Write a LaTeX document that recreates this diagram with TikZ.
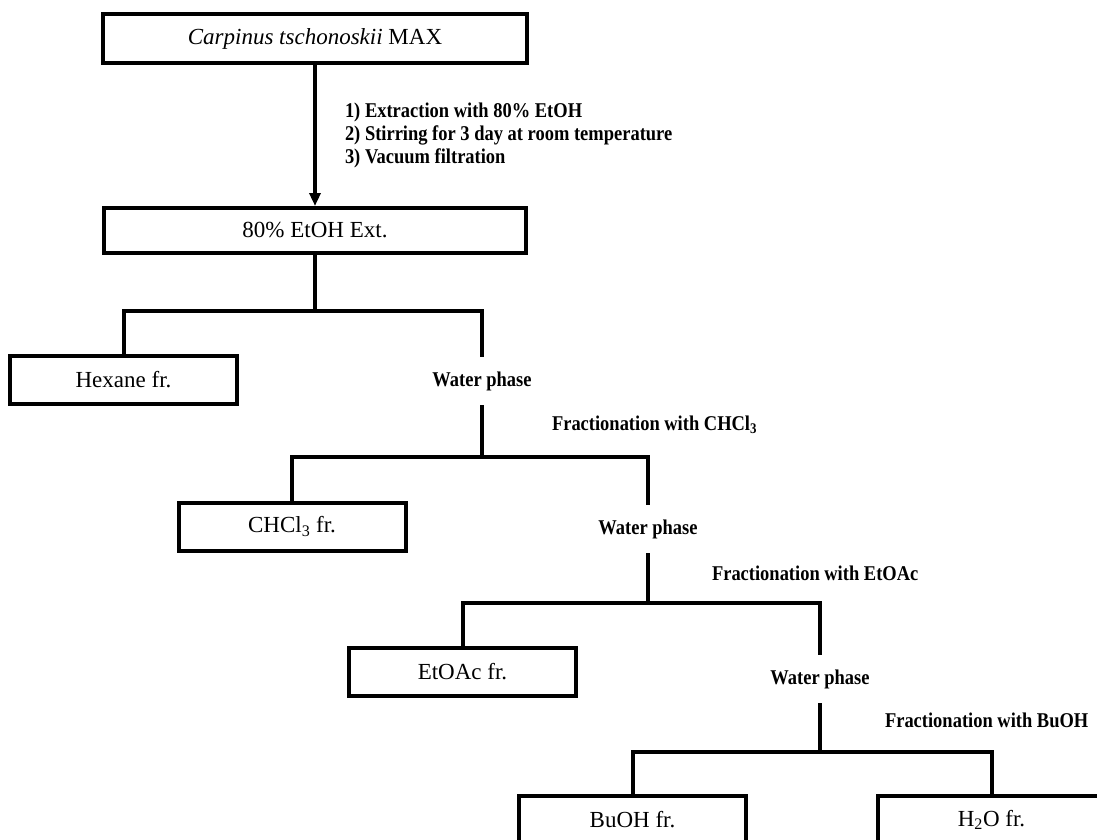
\documentclass[tikz,border=0pt]{standalone}
\usepackage{fontspec}
\setmainfont{Liberation Serif}
\newfontfamily\stepfont{Liberation Serif}[FakeStretch=0.88]
\usetikzlibrary{arrows.meta,positioning}

\begin{document}
\begin{tikzpicture}[x=1pt,y=-1pt,line width=4pt,
    box/.style={draw,rectangle,minimum width=227pt,minimum height=48pt,inner sep=0pt,
        font=\fontsize{23}{27}\selectfont},
    lbl/.style={inner sep=0pt,font=\stepfont\bfseries\fontsize{21}{23}\selectfont},
    phase/.style={lbl,minimum height=44pt}]
    \useasboundingbox (0,0) rectangle (1097,839);
    % plant material and extraction
    \node (src) [box,minimum width=424pt,minimum height=49pt] at (315,38.5)
        {\textit{Carpinus tschonoskii} MAX};
    \node (ext) [box,minimum width=422pt,minimum height=45pt] at (315,230.5) {80\% EtOH Ext.};
    \draw [-{Triangle[length=13pt,width=11pt]}] (src) --
        node (steps) [lbl,right=28pt,align=left]
        {1) Extraction with 80\% EtOH\\2) Stirring for 3 day at room temperature\\3) Vacuum filtration}
        (ext);
    % hexane
    \coordinate (j1) at (315,311);
    \node (hex) [box] at (123.5,380) {Hexane fr.};
    \node (wp1) [phase] at (482,381) {Water phase};
    \draw (ext) -- (j1);
    \draw (hex) |- (j1) -| (wp1);
    \node (fr1) [lbl,anchor=west] at (550,425) {Fractionation with CHCl\textsubscript{3}};
    % chloroform
    \coordinate (j2) at (482,457);
    \node (chl) [box] at (292,526.5) {CHCl\textsubscript{3} fr.};
    \node (wp2) [phase] at (648,529) {Water phase};
    \draw (wp1) -- (j2);
    \draw (chl) |- (j2) -| (wp2);
    \node (fr2) [lbl,anchor=west] at (710,573) {Fractionation with EtOAc};
    % ethyl acetate
    \coordinate (j3) at (648,603);
    \node (eta) [box] at (462.5,672) {EtOAc fr.};
    \node (wp3) [phase] at (820,679) {Water phase};
    \draw (wp2) -- (j3);
    \draw (eta) |- (j3) -| (wp3);
    \node (fr3) [lbl,anchor=west] at (883,720) {Fractionation with BuOH};
    % butanol / water
    \coordinate (j4) at (820,752);
    \node (buo) [box] at (632.5,820) {BuOH fr.};
    \node (h2o) [box] at (991.5,820) {H\textsubscript{2}O fr.};
    \draw (wp3) -- (j4);
    \draw (buo) |- (j4) -| (h2o);
\end{tikzpicture}
\end{document}
